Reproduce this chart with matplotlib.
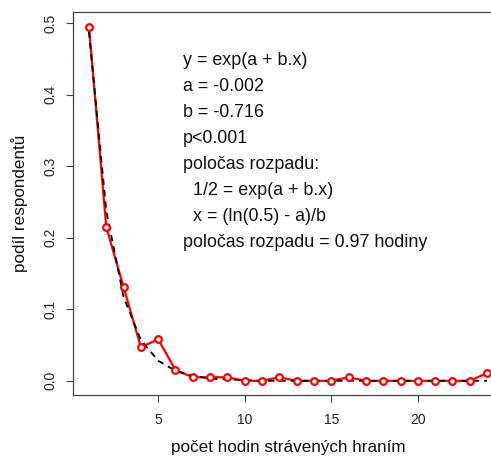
import matplotlib
matplotlib.use("Agg")
import matplotlib.pyplot as plt

plt.rcParams['font.family'] = ['Liberation Sans', 'DejaVu Sans']

# hours spent gaming vs share of respondents
hours = list(range(1, 25))
share = [0.495, 0.215, 0.131, 0.047, 0.058, 0.015, 0.005, 0.005, 0.005, 0.0,
         0.0, 0.005, 0.0, 0.0, 0.0, 0.005, 0.0, 0.0, 0.0, 0.0,
         0.0, 0.0, 0.0, 0.011]
# fitted exponential model values (y = exp(a + b.x), a=-0.002, b=-0.716)
fitted = [0.488, 0.238, 0.117, 0.057, 0.028, 0.014, 0.007, 0.003, 0.002, 0.001,
          0.0, 0.0, 0.0, 0.0, 0.0, 0.0, 0.0, 0.0, 0.0, 0.0,
          0.0, 0.0, 0.0, 0.0]

x_ticks = [5, 10, 15, 20]
y_ticks = [0.0, 0.1, 0.2, 0.3, 0.4, 0.5]

annot = ["y = exp(a + b.x)",
         "a = -0.002",
         "b = -0.716",
         "p<0.001",
         "poločas rozpadu:",
         "  1/2 = exp(a + b.x)",
         "  x = (ln(0.5) - a)/b",
         "poločas rozpadu = 0.97 hodiny"]

fig = plt.figure(figsize=(4.91, 4.57), dpi=100)
ax = fig.add_axes([0.1487, 0.1357, 0.8758, 0.8373])

ax.plot(hours, share, color='red', lw=1.6, zorder=2)
ax.plot(hours, fitted, color='black', lw=1.3, linestyle=(0, (3.5, 2.8)), zorder=3)
ax.plot(hours, share, linestyle='none', marker='o', ms=4.8, mew=1.6,
        mec='red', mfc='white', zorder=4)

ax.set_xlim(1 - 0.92, 24 + 0.92)
ax.set_ylim(-0.0198, 0.5148)
ax.set_xticks(x_ticks)
ax.set_yticks(y_ticks)
ax.set_yticklabels([f"{v:.1f}" for v in y_ticks], rotation=90, va='center')
ax.tick_params(axis='both', direction='out', length=5, width=0.8,
               colors='#444444', labelcolor='#222222', labelsize=10)
ax.tick_params(axis='x', pad=8)
ax.tick_params(axis='y', pad=6.5)
for s in ax.spines.values():
    s.set_color('#444444')
    s.set_linewidth(0.9)

ax.set_xlabel('počet hodin strávených hraním', fontsize=12.3, labelpad=9.5, color='#111111')
ax.set_ylabel('podíl respondentů', fontsize=12.3, labelpad=11, color='#111111')

for i, line in enumerate(annot):
    ax.text(6.45, 0.447 - i * 0.0362, line, fontsize=12.9, ha='left', va='center',
            color='#111111')

fig.savefig('out.png', dpi=100)
